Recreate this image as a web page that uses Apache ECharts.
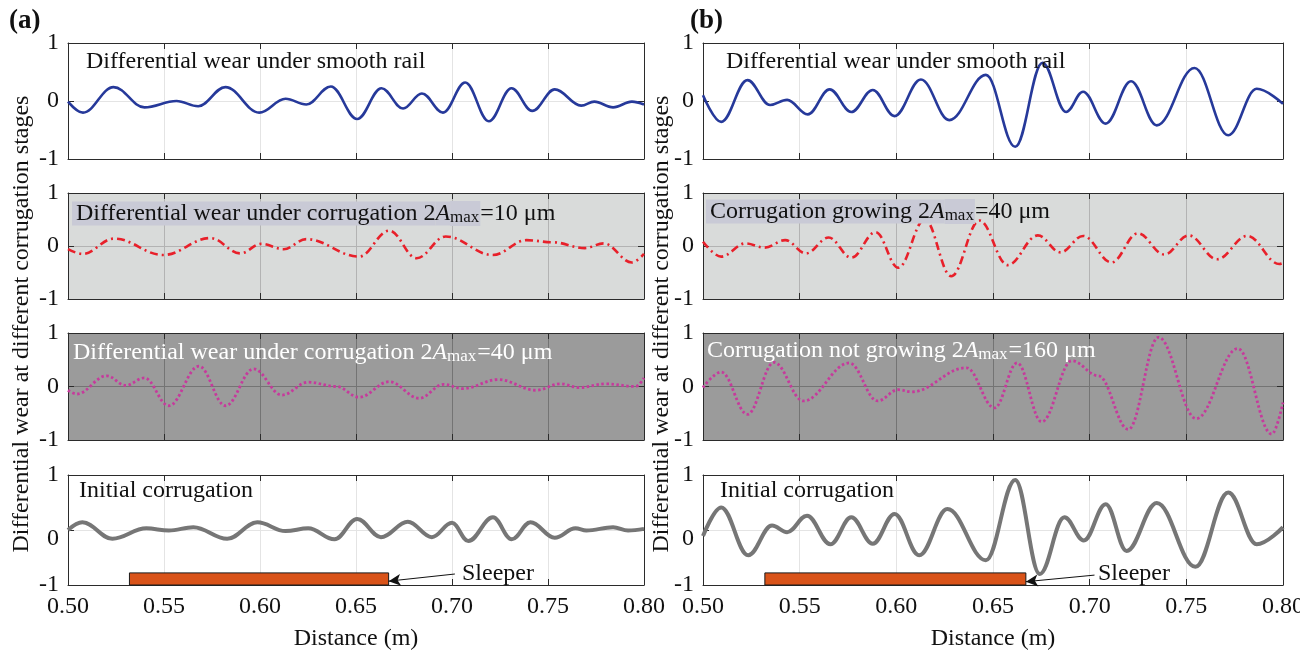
<!DOCTYPE html>
<html lang="en">
<head>
<meta charset="UTF-8">
<script src="https://cdn.jsdelivr.net/npm/echarts@6/dist/echarts.min.js"></script>
<style>
  * { margin: 0; padding: 0; }
  html, body { width: 100%; height: 100%; background: #fff; }
  #chart { width: 1300px; height: 650px; }
</style>
</head>
<body>
<div id="chart"></div>
<script>
  // peaks / troughs: [distance (m), normalised wear]
  var aSmooth = [[0.5, -0.01], [0.5078, -0.2], [0.5237, 0.24], [0.5398, -0.11], [0.5565, 0.0], [0.5678, -0.09],
    [0.582, 0.24], [0.5996, -0.2], [0.6133, 0.04], [0.6241, -0.06], [0.6369, 0.25], [0.6506, -0.31],
    [0.6633, 0.22], [0.6745, -0.13], [0.6843, 0.13], [0.6953, -0.2], [0.7069, 0.32], [0.7192, -0.35],
    [0.731, 0.22], [0.7418, -0.17], [0.7535, 0.2], [0.7673, -0.08], [0.7741, -0.01], [0.7839, -0.11],
    [0.7937, -0.01], [0.8, -0.06]];
  var aCorr10 = [[0.5, -0.06], [0.5075, -0.15], [0.5241, 0.14], [0.5496, -0.17], [0.5741, 0.15], [0.5898, -0.14],
    [0.6006, 0.04], [0.6123, -0.06], [0.6241, 0.13], [0.6516, -0.2], [0.6673, 0.29], [0.6816, -0.23],
    [0.6967, 0.18], [0.7212, -0.17], [0.7388, 0.11], [0.7525, 0.07], [0.7692, -0.04], [0.779, 0.05],
    [0.7937, -0.31], [0.8, -0.15]];
  var aCorr40 = [[0.5, -0.07], [0.5045, -0.14], [0.5202, 0.2], [0.53, 0.02], [0.5398, 0.16], [0.5525, -0.36],
    [0.5682, 0.38], [0.582, -0.36], [0.5967, 0.33], [0.6114, -0.16], [0.6251, 0.08], [0.6398, 0.0],
    [0.6516, -0.2], [0.6673, 0.09], [0.6829, -0.22], [0.6957, 0.04], [0.7055, -0.04], [0.7241, 0.13],
    [0.7437, -0.07], [0.7565, 0.05], [0.7663, -0.02], [0.78, 0.05], [0.7957, 0.0], [0.8, 0.16]];
  var aInit = [[0.5, 0.0], [0.5075, 0.14], [0.5231, -0.16], [0.5408, 0.03], [0.5525, -0.01], [0.5653, 0.05],
    [0.5829, -0.16], [0.5986, 0.14], [0.6133, -0.02], [0.6251, 0.03], [0.6388, -0.17], [0.6506, 0.2],
    [0.663, -0.13], [0.677, 0.15], [0.6895, -0.13], [0.7, 0.13], [0.7085, -0.2], [0.7213, 0.23],
    [0.7311, -0.17], [0.7409, 0.14], [0.7535, -0.14], [0.7643, 0.03], [0.77, -0.01], [0.7839, 0.05],
    [0.7917, -0.01], [0.8, 0.02]];

  var bSmooth = [[0.5, 0.1], [0.5094, -0.36], [0.523, 0.36], [0.5347, -0.07], [0.5435, 0.02], [0.5542, -0.23],
    [0.5655, 0.2], [0.5767, -0.19], [0.5878, 0.19], [0.5991, -0.26], [0.6127, 0.37], [0.6274, -0.33],
    [0.6463, 0.45], [0.6615, -0.79], [0.6756, 0.66], [0.6878, -0.19], [0.6966, 0.16], [0.7083, -0.39],
    [0.7214, 0.34], [0.7347, -0.42], [0.7542, 0.57], [0.7717, -0.59], [0.7864, 0.21], [0.8, -0.05]];
  var bCorr40 = [[0.5, 0.08], [0.5094, -0.2], [0.522, 0.05], [0.5318, -0.03], [0.5425, 0.11], [0.5533, -0.14],
    [0.565, 0.16], [0.5767, -0.22], [0.5893, 0.26], [0.601, -0.41], [0.6147, 0.5], [0.6284, -0.57],
    [0.643, 0.48], [0.6576, -0.36], [0.6732, 0.2], [0.6849, -0.12], [0.6966, 0.19], [0.7113, -0.31],
    [0.7249, 0.24], [0.7386, -0.16], [0.7512, 0.2], [0.7659, -0.25], [0.7815, 0.19], [0.7981, -0.34],
    [0.8, -0.32]];
  var bCorr160 = [[0.5, -0.02], [0.5094, 0.27], [0.523, -0.52], [0.5367, 0.45], [0.5519, -0.27], [0.5757, 0.44],
    [0.5903, -0.27], [0.601, -0.06], [0.6079, -0.1], [0.6362, 0.35], [0.6508, -0.4], [0.6625, 0.44],
    [0.6752, -0.66], [0.6908, 0.48], [0.7045, 0.2], [0.72, -0.8], [0.7356, 0.92], [0.7551, -0.6],
    [0.7766, 0.71], [0.7942, -0.89], [0.8, -0.3]];
  var bInit = [[0.5, -0.11], [0.5094, 0.41], [0.5234, -0.46], [0.5357, 0.08], [0.5435, -0.04], [0.5538, 0.26],
    [0.5659, -0.26], [0.5767, 0.23], [0.5878, -0.25], [0.5991, 0.29], [0.6118, -0.46], [0.6264, 0.38],
    [0.6463, -0.55], [0.6615, 0.91], [0.6742, -0.8], [0.6869, 0.23], [0.697, -0.19], [0.7083, 0.47],
    [0.7191, -0.38], [0.7347, 0.49], [0.7547, -0.67], [0.7717, 0.68], [0.7864, -0.26], [0.8, 0.05]];

  // sleeper extent [x0, x1, yTop] and arrow [from, to]
  var sleeperA = [0.532, 0.667, -0.78];
  var sleeperB = [0.532, 0.667, -0.78];
  var arrowA = [[0.7015, -0.8], [0.667, -0.93]];
  var arrowB = [[0.7025, -0.82], [0.667, -0.94]];

  var xMin = 0.5, xMax = 0.8, xStep = 0.05;

  var FONT = 'Liberation Serif';
  var FS = 24;
  var chart = echarts.init(document.getElementById('chart'));

  var cols = [{left: 68, right: 656}, {left: 703, right: 17}];
  var rows = [{top: 43, h: 116}, {top: 193, h: 106}, {top: 333, h: 107}, {top: 475, h: 110}];
  var rowStyle = [
    {color: '#26399a', width: 2.6, type: 'solid', bg: '#ffffff', split: '#e4e4e4'},
    {color: '#e8202a', width: 2.6, type: [8, 4, 2, 4], bg: '#d9dbda', split: '#b3b3b3'},
    {color: '#c63a9c', width: 2.8, type: [2.5, 2.5], bg: '#9b9b9b', split: '#747474'},
    {color: '#767676', width: 4, type: 'solid', bg: '#ffffff', split: '#e4e4e4'}
  ];
  var curves = [[aSmooth, aCorr10, aCorr40, aInit], [bSmooth, bCorr40, bCorr160, bInit]];
  var sleepers = [sleeperA, sleeperB];
  var arrows = [arrowA, arrowB];

  var grids = [], xAxes = [], yAxes = [], series = [];
  var lineCol = '#2b2b2b';
  var lbl = {fontFamily: FONT, fontSize: FS, color: '#111'};

  for (var c = 0; c < 2; c++) {
    for (var r = 0; r < 4; r++) {
      var st = rowStyle[r];
      var gi = grids.length;
      grids.push({
        left: cols[c].left, right: cols[c].right, top: rows[r].top, height: rows[r].h,
        show: true, backgroundColor: st.bg, borderWidth: 0, containLabel: false, outerBoundsMode: 'none'
      });
      xAxes.push({
        type: 'value', gridIndex: gi, min: xMin, max: xMax, interval: xStep,
        axisLine: {show: true, onZero: false, lineStyle: {color: lineCol, width: 1}},
        axisTick: {show: true, inside: true, length: 6, lineStyle: {color: lineCol}},
        axisLabel: Object.assign({show: r === 3, margin: 10, formatter: function (v) { return v.toFixed(2); }}, lbl),
        splitLine: {show: true, lineStyle: {color: st.split, width: 1}},
        name: r === 3 ? 'Distance (m)' : '', nameLocation: 'middle', nameGap: 42,
        nameTextStyle: lbl
      });
      xAxes.push({
        type: 'value', gridIndex: gi, position: 'top', min: xMin, max: xMax, interval: xStep,
        axisLine: {show: true, onZero: false, lineStyle: {color: lineCol, width: 1}},
        axisTick: {show: true, inside: true, length: 6, lineStyle: {color: lineCol}},
        axisLabel: {show: false}, splitLine: {show: false}
      });
      yAxes.push({
        type: 'value', gridIndex: gi, min: -1, max: 1, interval: 1,
        axisLine: {show: true, onZero: false, lineStyle: {color: lineCol, width: 1}},
        axisTick: {show: true, inside: true, length: 6, lineStyle: {color: lineCol}},
        axisLabel: Object.assign({
          margin: 9,
          formatter: (function (bottom) {
            return function (v) { return (bottom && v === 0) ? '{z|0}' : String(v); };
          })(r === 3),
          rich: {z: {fontFamily: FONT, fontSize: FS, color: '#111', padding: [18, 0, 0, 0]}}
        }, lbl),
        splitLine: {show: true, lineStyle: {color: st.split, width: 1}}
      });
      yAxes.push({
        type: 'value', gridIndex: gi, position: 'right', min: -1, max: 1, interval: 1,
        axisLine: {show: true, onZero: false, lineStyle: {color: lineCol, width: 1}},
        axisTick: {show: true, inside: true, length: 6, lineStyle: {color: lineCol}},
        axisLabel: {show: false}, splitLine: {show: false}
      });
      var s = {
        type: 'line', xAxisIndex: gi * 2, yAxisIndex: gi * 2, data: curves[c][r],
        smooth: 0.38, smoothMonotone: 'x', showSymbol: false, symbol: 'none', silent: true,
        lineStyle: {color: st.color, width: st.width, type: st.type, cap: 'butt'},
        z: 3
      };
      if (r === 3) {
        var sl = sleepers[c], ar = arrows[c];
        s.markArea = {
          silent: true,
          itemStyle: {color: '#d95319', borderColor: '#1a1a1a', borderWidth: 1, opacity: 1},
          data: [[{coord: [sl[0], -1]}, {coord: [sl[1], sl[2]]}]]
        };
        s.markLine = {
          silent: true, symbol: ['none', 'arrow'], symbolSize: [9, 12], animation: false,
          lineStyle: {color: '#111', width: 1, type: 'solid'}, label: {show: false},
          data: [[{coord: ar[0]}, {coord: ar[1]}]]
        };
      }
      series.push(s);
    }
  }

  var box = '#c9cad6';
  function richSet(color, bg) {
    return {
      h: {fontFamily: FONT, fontSize: FS, color: color, lineHeight: 29, backgroundColor: bg, padding: [0, 0, 0, 4]},
      i: {fontFamily: FONT, fontSize: FS, color: color, lineHeight: 29, fontStyle: 'italic', backgroundColor: bg},
      s: {fontFamily: FONT, fontSize: 17, color: color, lineHeight: 21, padding: [8, 1, 0, 0], backgroundColor: bg},
      n: {fontFamily: FONT, fontSize: FS, color: color, lineHeight: 29}
    };
  }
  function plain(text, left, cy, color) {
    return {text: text, left: left, top: cy - 14, padding: 0,
      textStyle: {fontFamily: FONT, fontSize: FS, fontWeight: 'normal', color: color || '#111', lineHeight: 28}};
  }
  function richTitle(text, left, cy, color, bg) {
    return {text: text, left: left, top: cy - 14, padding: 0,
      textStyle: {fontFamily: FONT, fontSize: FS, fontWeight: 'normal', color: color, rich: richSet(color, bg)}};
  }

  var titles = [
    plain('Differential wear under smooth rail', 86, 62),
    richTitle('{h|Differential wear under corrugation 2}{i|A}{s|max}{n|=10 μm}', 72, 213, '#111', box),
    richTitle('{h|Differential wear under corrugation 2}{i|A}{s|max}{n|=40 μm}', 69, 352, '#ffffff', 'transparent'),
    plain('Initial corrugation', 79, 491),
    plain('Sleeper', 462, 574),
    plain('Differential wear under smooth rail', 726, 62),
    richTitle('{h|Corrugation growing 2}{i|A}{s|max}{n|=40 μm}', 706, 211, '#111', box),
    richTitle('{h|Corrugation not growing 2}{i|A}{s|max}{n|=160 μm}', 703, 350, '#ffffff', 'transparent'),
    plain('Initial corrugation', 720, 491),
    plain('Sleeper', 1098, 574),
    {text: '(a)', left: 9, top: 8, padding: 0, textStyle: {fontFamily: FONT, fontSize: 27, fontWeight: 'bold', color: '#111'}},
    {text: '(b)', left: 690, top: 8, padding: 0, textStyle: {fontFamily: FONT, fontSize: 27, fontWeight: 'bold', color: '#111'}}
  ];

  var yTitle = 'Differential wear at different corrugation stages';
  var option = {
    animation: false,
    backgroundColor: '#ffffff',
    title: titles,
    grid: grids,
    xAxis: xAxes,
    yAxis: yAxes,
    series: series,
    graphic: [
      {type: 'text', x: 22, y: 324, rotation: Math.PI / 2,
        style: {text: yTitle, font: FS + 'px "Liberation Serif"', fill: '#111', align: 'center', verticalAlign: 'middle'}},
      {type: 'text', x: 662, y: 324, rotation: Math.PI / 2,
        style: {text: yTitle, font: FS + 'px "Liberation Serif"', fill: '#111', align: 'center', verticalAlign: 'middle'}}
    ]
  };
  chart.setOption(option);
</script>
</body>
</html>
